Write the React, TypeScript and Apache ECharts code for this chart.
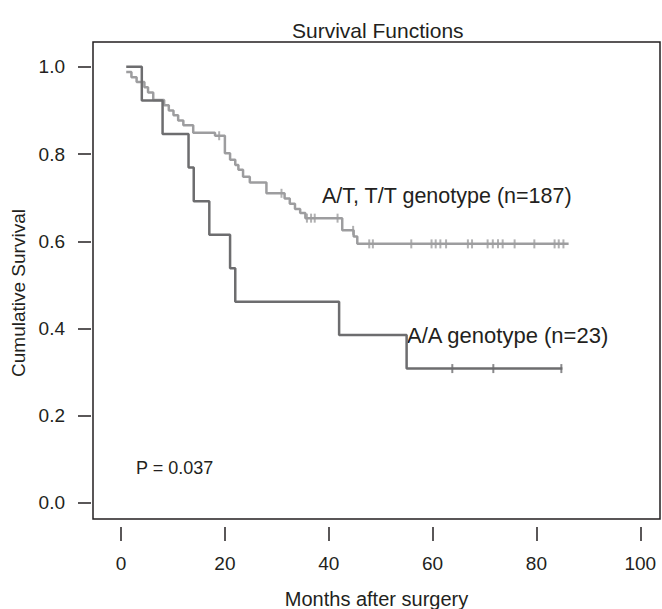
import React, { useEffect, useRef } from "react";
import * as echarts from "echarts";

const xTicks = [0, 20, 40, 60, 80, 100];
const yTicks = [0, 0.2, 0.4, 0.6, 0.8, 1.0];

// A/A genotype (n=23): [month, survival after event]
const aaSteps: [number, number][] = [
  [1, 1.0], [4, 0.923], [8, 0.846], [13, 0.769], [14, 0.692], [17, 0.615],
  [21, 0.538], [22, 0.4615], [42, 0.385], [55, 0.308], [85, 0.308],
];
const aaCensor: [number, number][] = [[63.8, 0.308], [71.7, 0.308], [84.8, 0.308]];

// A/T, T/T genotype (n=187)
const atSteps: [number, number][] = [
  [1, 0.988], [2, 0.976], [3, 0.965], [4.5, 0.953], [5.2, 0.941], [6.2, 0.924],
  [8.3, 0.912], [9.2, 0.9], [10.1, 0.889], [11.0, 0.877], [12.0, 0.866], [13.9, 0.849],
  [18.1, 0.842], [20.0, 0.802], [21.0, 0.787], [22.0, 0.775], [22.6, 0.764], [23.5, 0.748],
  [24.8, 0.735], [28.0, 0.71], [31.5, 0.698], [32.5, 0.686], [33.5, 0.674], [34.5, 0.665],
  [35.5, 0.653], [42.6, 0.625], [44.8, 0.611], [45.5, 0.594], [86.2, 0.594],
];
const atCensor: [number, number][] = [
  [18.9, 0.842], [30.9, 0.71], [35.8, 0.653], [36.6, 0.653], [37.3, 0.653], [41.7, 0.653],
  [44.7, 0.625], [47.8, 0.594], [48.5, 0.594], [55.9, 0.594], [59.8, 0.594], [60.6, 0.594],
  [61.5, 0.594], [62.6, 0.594], [66.8, 0.594], [67.6, 0.594], [70.6, 0.594], [71.6, 0.594],
  [72.6, 0.594], [73.5, 0.594], [75.8, 0.594], [79.6, 0.594], [83.5, 0.594], [84.3, 0.594],
  [85.2, 0.594],
];

const FONT = "'Liberation Sans', Arial, Helvetica, sans-serif";
const TEXT = "#231f20";
const DARK = "#6d6d6f";
const LIGHT = "#9d9d9f";
const FS = 19;

export default function App() {
  const ref = useRef<HTMLDivElement>(null);
  useEffect(() => {
    if (!ref.current) return;
    const chart = echarts.init(ref.current, undefined, { renderer: "svg" });
    const tickStyle = { color: TEXT, width: 1.5 };
    const txt = (text: string, x: number, y: number, fontSize: number, extra: any = {}) => ({
      type: "text", x, y, ...extra,
      style: { text, fontSize, fill: TEXT, fontFamily: FONT, verticalAlign: "middle", align: "left", ...(extra.style || {}) },
    });
    chart.setOption({
      animation: false,
      backgroundColor: "#ffffff",
      textStyle: { fontFamily: FONT },
      grid: {
        left: 93, top: 42, right: 2, bottom: 90, outerBoundsMode: "none",
        show: true, borderColor: TEXT, borderWidth: 1.5, backgroundColor: "transparent",
      },
      xAxis: {
        type: "value", min: -5.4, max: 103.8, offset: 8,
        name: "Months after surgery", nameLocation: "middle", nameGap: 62,
        nameTextStyle: { fontSize: 20, color: TEXT, fontFamily: FONT },
        axisLine: { show: false, onZero: false },
        splitLine: { show: false },
        axisTick: { show: true, length: 14, lineStyle: tickStyle, customValues: xTicks },
        axisLabel: { customValues: xTicks, margin: 27, fontSize: FS, color: TEXT, fontFamily: FONT },
      },
      yAxis: {
        type: "value", min: -0.037, max: 1.057, offset: 2,
        axisLine: { show: false, onZero: false },
        splitLine: { show: false },
        axisTick: { show: true, length: 13, lineStyle: tickStyle, customValues: yTicks },
        axisLabel: {
          customValues: yTicks, margin: 26, fontSize: FS, color: TEXT, fontFamily: FONT,
          formatter: (v: number) => v.toFixed(1),
        },
      },
      graphic: [
        txt("Survival Functions", 292, 30, 21),
        txt("A/T, T/T genotype (n=187)", 322, 196, 21.5),
        txt("A/A genotype (n=23)", 407, 335, 22),
        txt("P = 0.037", 136, 468, 18),
        {
          type: "text", x: 18, y: 293, rotation: Math.PI / 2,
          style: { text: "Cumulative Survival", fontSize: FS, fill: TEXT, fontFamily: FONT, align: "center", verticalAlign: "middle" },
        },
      ],
      series: [
        {
          type: "line", step: "end", data: atSteps, showSymbol: false, symbol: "none",
          lineStyle: { color: LIGHT, width: 2.5 }, z: 2,
        },
        {
          type: "line", step: "end", data: aaSteps, showSymbol: false, symbol: "none",
          lineStyle: { color: DARK, width: 2.5 }, z: 3,
        },
        {
          type: "scatter", data: atCensor, symbol: "rect", symbolSize: [2, 9],
          itemStyle: { color: LIGHT }, z: 2,
        },
        {
          type: "scatter", data: aaCensor, symbol: "rect", symbolSize: [2, 9],
          itemStyle: { color: DARK }, z: 3,
        },
      ],
    });
    return () => chart.dispose();
  }, []);
  return <div ref={ref} style={{ position: "fixed", left: 0, top: 0, width: 662, height: 609 }} />;
}
